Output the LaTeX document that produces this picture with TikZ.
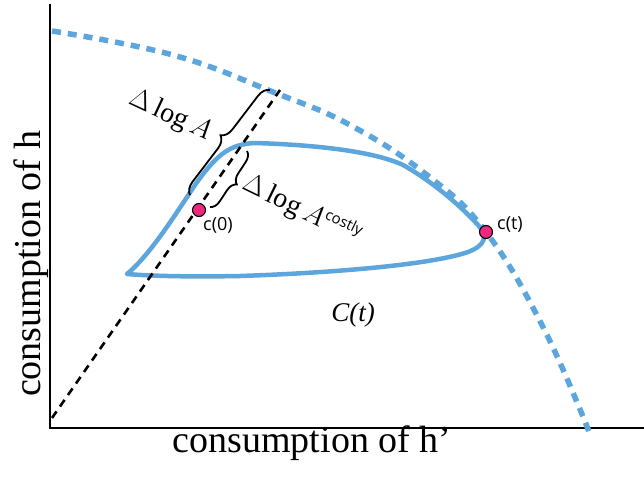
\documentclass[tikz,border=0pt]{standalone}
\usepackage{fix-cm}
\usepackage{fontspec}
\setmainfont{Liberation Serif}
\setsansfont{Open Sans}
\usepackage{tikz}
\usetikzlibrary{decorations.pathreplacing, positioning}
\definecolor{curveblue}{RGB}{93,165,221}
\definecolor{dotpink}{RGB}{236,40,128}
\tikzset{
  axis/.style={line width=2pt, color=black},
  frontier/.style={line width=5.5pt, color=curveblue, dash pattern=on 9pt off 7pt},
  ray/.style={line width=2.6pt, color=black, dash pattern=on 8pt off 6pt},
  setcurve/.style={line width=4.5pt, color=curveblue, line join=round},
  brc/.style={decorate, decoration={brace, amplitude=#1}, line width=1.8pt},
  dot/.style={circle, draw=black, fill=dotpink, line width=1.1pt,
    minimum size=13pt, inner sep=0pt},
  ptlabel/.style={font=\sffamily\fontsize{18}{18}\selectfont,
    anchor=base west, inner sep=0pt},
  axlabel/.style={font=\fontsize{38}{40}\selectfont, anchor=base, inner sep=0pt},
  deltalabel/.style={font=\fontsize{28}{30}\selectfont, inner sep=0pt}
}

\begin{document}
\begin{tikzpicture}[x=1pt, y=-1pt]
  \useasboundingbox (0,0) rectangle (644,481);
  % ── axes ───────────────────────────────────────────────────────────────
  \coordinate (O) at (50,428);
  \coordinate (ytop) at (50,4);
  \coordinate (xend) at (644,428);
  \draw[axis] (ytop) -- (O) -- (xend);
  \node[axlabel] (xlab) at (312,452) {consumption of h’};
  \node[axlabel, rotate=90] (ylab) at (40,264) {consumption of h};

  % ── frontier (dashed) and ray through c(0) ─────────────────────────────
  \draw[frontier] plot[smooth, tension=0.7] coordinates
    {(52,31) (173,55) (273,92) (350,125) (427,175) (486,232) (543,327) (590,434)};
  \coordinate (raystart) at (52,418);
  \coordinate (rayend) at (280,90);

  % ── consumption set C(t) ───────────────────────────────────────────────
  \draw[setcurve] (127,274)
    .. controls (150,255) and (175,215) .. (195,185)
    .. controls (215,157) and (228,144) .. (255,143)
    .. controls (320,145) and (375,152) .. (403,165)
    .. controls (430,180) and (460,205) .. (478,225)
    .. controls (488,236) and (486,245) .. (468,252)
    .. controls (430,265) and (330,273) .. (240,276)
    .. controls (190,277) and (150,276) .. (127,274) -- cycle;
  \draw[ray] (raystart) -- (rayend);
  \node[deltalabel, font=\itshape\fontsize{27}{28}\selectfont] (Ct) at (353,315) {C(t)};

  % ── braces ─────────────────────────────────────────────────────────────
  \draw[brc=12pt] (190,195) -- (270,90);
  \draw[brc=10pt] (247,151) -- (210,207);
  \node[deltalabel, rotate=-25] (dA) at (170,116) {$\Delta\log A$};
  \node[deltalabel, rotate=-26] (dAc) at (302,210)
    {$\Delta\log A^{\mbox{\sffamily\fontsize{15}{15}\selectfont costly}}$};

  % ── points ─────────────────────────────────────────────────────────────
  \node[dot] (c0) at (199,210) {};
  \node[dot] (ct) at (486,232) {};
  \node[ptlabel] (c0lab) at (203,230) {c(0)};
  \node[ptlabel] (ctlab) at (497,229) {c(t)};
\end{tikzpicture}
\end{document}
